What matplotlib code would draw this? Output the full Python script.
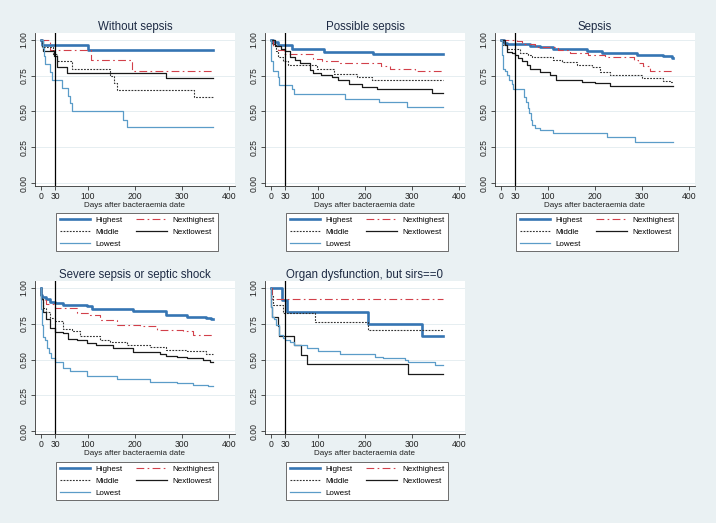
import matplotlib
matplotlib.use("Agg")
import matplotlib.pyplot as plt
from matplotlib.lines import Line2D

plt.rcParams['font.family'] = ['Liberation Sans', 'DejaVu Sans']

# Kaplan-Meier steps: (day, survival from that day on)
titles = ["Without sepsis", "Possible sepsis", "Sepsis",
          "Severe sepsis or septic shock", "Organ dysfunction, but sirs==0"]
series_names = ["Highest", "Nexthighest", "Middle", "Nextlowest", "Lowest"]
end_day = 365

ws_highest = [(0, 1.0), (2, 0.965), (100, 0.93)]
ws_nexthighest = [(0, 1.0), (19, 0.929), (106, 0.857), (193, 0.786)]
ws_middle = [(0, 1.0), (3, 0.95), (26, 0.90), (33, 0.85), (65, 0.80),
             (147, 0.75), (155, 0.70), (161, 0.65), (326, 0.60)]
ws_nextlowest = [(0, 1.0), (4, 0.923), (28, 0.885), (35, 0.808), (55, 0.769),
                 (265, 0.731)]
ws_lowest = [(0, 1.0), (4, 0.944), (7, 0.889), (9, 0.833), (19, 0.778),
             (23, 0.722), (44, 0.667), (58, 0.611), (62, 0.556), (65, 0.50),
             (175, 0.444), (182, 0.389)]

ps_highest = [(0, 1.0), (5, 0.988), (15, 0.965), (44, 0.937), (113, 0.918),
              (218, 0.90)]
ps_nexthighest = [(0, 1.0), (4, 0.96), (14, 0.93), (28, 0.90), (90, 0.867),
                  (108, 0.853), (147, 0.836), (235, 0.82), (253, 0.797),
                  (306, 0.783)]
ps_middle = [(0, 1.0), (3, 0.97), (10, 0.92), (15, 0.88), (25, 0.855),
             (37, 0.825), (97, 0.80), (133, 0.762), (182, 0.74), (214, 0.72)]
ps_nextlowest = [(0, 1.0), (8, 0.96), (22, 0.935), (30, 0.92), (40, 0.883),
                 (51, 0.86), (62, 0.837), (83, 0.79), (90, 0.771),
                 (106, 0.755), (129, 0.739), (143, 0.72), (165, 0.692),
                 (193, 0.674), (225, 0.655), (342, 0.632)]
ps_lowest = [(0, 1.0), (1, 0.85), (4, 0.785), (15, 0.74), (18, 0.685),
             (44, 0.655), (48, 0.622), (157, 0.59), (230, 0.563), (290, 0.528)]

se_highest = [(0, 1.0), (6, 0.98), (12, 0.97), (62, 0.96), (83, 0.951),
              (111, 0.937), (182, 0.925), (214, 0.907), (289, 0.895),
              (345, 0.888), (363, 0.872)]
se_nexthighest = [(0, 1.0), (33, 0.99), (44, 0.97), (72, 0.953), (122, 0.93),
                  (147, 0.91), (186, 0.895), (221, 0.879), (282, 0.86),
                  (292, 0.837), (303, 0.818), (317, 0.786)]
se_middle = [(0, 1.0), (5, 0.965), (12, 0.935), (40, 0.907), (58, 0.893),
             (65, 0.879), (111, 0.86), (129, 0.848), (161, 0.825),
             (193, 0.809), (211, 0.778), (232, 0.755), (299, 0.732),
             (345, 0.713), (360, 0.705)]
se_nextlowest = [(0, 1.0), (8, 0.965), (12, 0.918), (23, 0.91), (30, 0.895),
                 (37, 0.872), (44, 0.853), (55, 0.825), (62, 0.80),
                 (83, 0.778), (104, 0.755), (118, 0.72), (172, 0.709),
                 (200, 0.697), (232, 0.68)]
se_lowest = [(0, 1.0), (2, 0.895), (4, 0.80), (8, 0.78), (12, 0.755),
             (18, 0.72), (23, 0.69), (26, 0.655), (48, 0.604), (53, 0.569),
             (57, 0.522), (60, 0.487), (64, 0.44), (67, 0.405), (72, 0.382),
             (82, 0.37), (111, 0.347), (225, 0.32), (285, 0.289)]

ss_highest = [(0, 1.0), (0.5, 0.95), (2, 0.937), (10, 0.92), (20, 0.905),
              (30, 0.895), (47, 0.879), (97, 0.871), (108, 0.853),
              (196, 0.836), (267, 0.813), (310, 0.80), (350, 0.79),
              (362, 0.785)]
ss_nexthighest = [(0, 1.0), (0.3, 0.918), (10, 0.89), (30, 0.86),
                  (76, 0.825), (104, 0.813), (125, 0.778), (161, 0.743),
                  (211, 0.731), (246, 0.708), (303, 0.696), (324, 0.673),
                  (360, 0.668)]
ss_middle = [(0, 1.0), (0.3, 0.93), (5, 0.86), (10, 0.83), (20, 0.79),
             (30, 0.766), (47, 0.715), (65, 0.70), (83, 0.661), (125, 0.638),
             (147, 0.621), (182, 0.598), (232, 0.584), (267, 0.568),
             (310, 0.556), (350, 0.54)]
ss_nextlowest = [(0, 1.0), (0.3, 0.92), (5, 0.83), (10, 0.78), (20, 0.72),
                 (30, 0.69), (47, 0.685), (58, 0.645), (76, 0.638),
                 (97, 0.614), (118, 0.598), (154, 0.579), (196, 0.551),
                 (253, 0.54), (267, 0.521), (289, 0.516), (310, 0.509),
                 (345, 0.498), (360, 0.481)]
ss_lowest = [(0, 1.0), (0.5, 0.85), (2, 0.74), (5, 0.66), (8, 0.638),
             (12, 0.58), (16, 0.544), (22, 0.51), (30, 0.486), (47, 0.444),
             (62, 0.421), (97, 0.388), (161, 0.364), (232, 0.346),
             (289, 0.334), (324, 0.322), (355, 0.318)]

od_highest = [(0, 1.0), (23, 0.917), (35, 0.833), (206, 0.75), (322, 0.667)]
od_nexthighest = [(0, 1.0), (2, 0.923)]
od_middle = [(0, 1.0), (1, 0.941), (4, 0.882), (26, 0.824), (94, 0.765),
             (207, 0.706)]
od_nextlowest = [(0, 1.0), (1, 0.867), (3, 0.80), (14, 0.733), (16, 0.667),
                 (48, 0.60), (64, 0.533), (76, 0.467), (292, 0.40)]
od_lowest = [(0, 1.0), (0.5, 0.87), (2, 0.80), (6, 0.78), (10, 0.74),
             (16, 0.673), (26, 0.65), (30, 0.638), (40, 0.62), (48, 0.60),
             (76, 0.58), (100, 0.56), (147, 0.537), (221, 0.52), (239, 0.51),
             (285, 0.50), (292, 0.48), (349, 0.463)]

panels = [
    [ws_highest, ws_nexthighest, ws_middle, ws_nextlowest, ws_lowest],
    [ps_highest, ps_nexthighest, ps_middle, ps_nextlowest, ps_lowest],
    [se_highest, se_nexthighest, se_middle, se_nextlowest, se_lowest],
    [ss_highest, ss_nexthighest, ss_middle, ss_nextlowest, ss_lowest],
    [od_highest, od_nexthighest, od_middle, od_nextlowest, od_lowest],
]

x_ticks = [0, 30, 100, 200, 300, 400]
y_ticks = [0.0, 0.25, 0.5, 0.75, 1.0]

styles = [
    dict(color='#3575b3', lw=1.9, ls='-'),
    dict(color='#d2404a', lw=0.8, ls=(0, (7, 3, 1.5, 3))),
    dict(color='#333333', lw=0.8, ls=(0, (1.6, 1.2))),
    dict(color='#1a1a1a', lw=0.9, ls='-'),
    dict(color='#5b9cc8', lw=0.9, ls='-'),
]

W, H = 716, 523
bg = '#eaf1f3'
fig = plt.figure(figsize=(W / 100, H / 100), dpi=100, facecolor=bg)

# pixel positions: x of day 0, y of survival 1.00, legend top
col_x0 = [41, 271, 501]
row_y1 = [40, 288]
legend_top = [213, 462]
px_per_day = 188 / 400
px_per_unit = 143


def add_panel(i, data):
    row, col = divmod(i, 3)
    x0 = col_x0[col]
    y1 = row_y1[row]
    left, right = x0 - 6, x0 + 188 + 6
    top, bottom = y1 - 7, y1 + px_per_unit + 3
    ax = fig.add_axes([left / W, 1 - bottom / H, (right - left) / W,
                       (bottom - top) / H])
    ax.set_facecolor('white')
    ax.set_xlim(-6 / px_per_day, 400 + 6 / px_per_day)
    ax.set_ylim(-3 / px_per_unit, 1 + 7 / px_per_unit)
    for y in y_ticks:
        ax.axhline(y, color='#e6eef1', lw=0.7, zorder=0)
    handles = []
    for pts, st in zip(data, styles):
        t = [p[0] for p in pts] + [end_day]
        s = [p[1] for p in pts] + [pts[-1][1]]
        ax.step(t, s, where='post', zorder=3, **st)
        handles.append(Line2D([], [], **st))
    ax.axvline(30, color='black', lw=0.9, zorder=4)

    ax.set_xticks(x_ticks)
    ax.set_yticks(y_ticks)
    ax.set_yticklabels(["%.2f" % v for v in y_ticks], rotation=90,
                       va='center')
    ax.tick_params(labelsize=6.2, length=3, width=0.6, color='#333333',
                   pad=1.5, labelcolor='#222222')
    for side in ['top', 'right']:
        ax.spines[side].set_visible(False)
    for side in ['left', 'bottom']:
        ax.spines[side].set_color('#333333')
        ax.spines[side].set_linewidth(0.6)
    ax.set_xlabel("Days after bacteraemia date", fontsize=5.8, labelpad=0.5,
                  color='#222222')
    ax.set_title(titles[i], fontsize=8.3, color='#1e2b44', pad=2.5)

    order = [0, 2, 4, 1, 3]
    lt = legend_top[row]
    lx = x0 + 15
    leg = ax.legend([handles[k] for k in order],
                    [series_names[k] for k in order],
                    ncol=2, loc='upper left',
                    bbox_to_anchor=(lx / W, 1 - lt / H),
                    bbox_transform=fig.transFigure, fontsize=5.8,
                    handlelength=3.8, handletextpad=0.7, labelspacing=0.5,
                    borderpad=0.45, borderaxespad=0, columnspacing=1.6,
                    fancybox=False, edgecolor='#555555', framealpha=1,
                    facecolor='white')
    leg.get_frame().set_linewidth(0.6)


for i, data in enumerate(panels):
    add_panel(i, data)

fig.savefig("out.png", dpi=100, facecolor=bg)
